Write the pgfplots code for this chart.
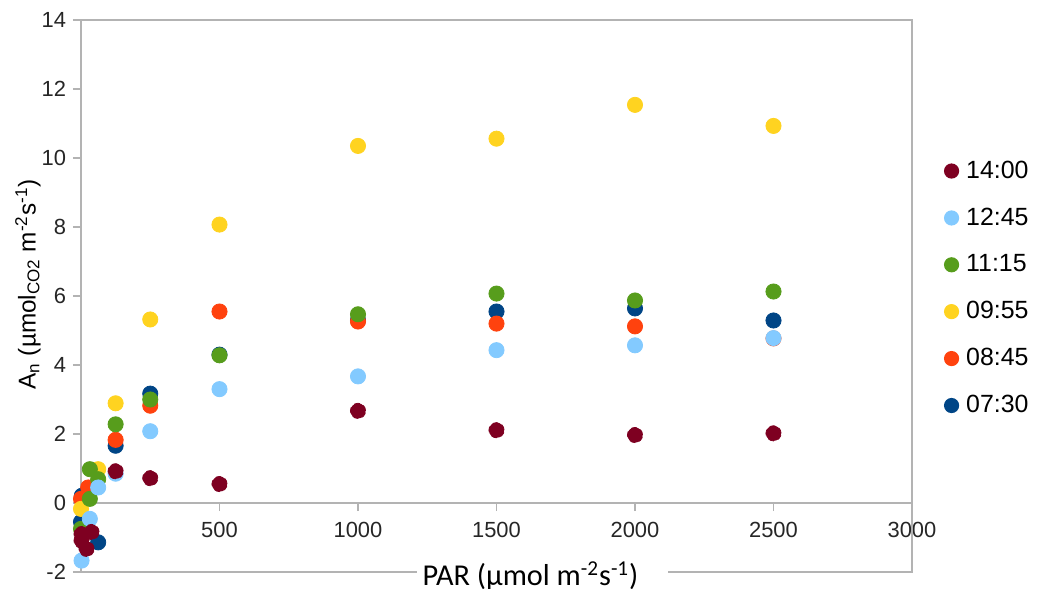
\documentclass[border=0pt]{standalone}
\usepackage{fontspec}
\setmainfont{Liberation Sans}
\newfontfamily\calibri{Carlito}
\usepackage{pgfplots}
\pgfplotsset{compat=1.18}
\definecolor{cA}{HTML}{004586}
\definecolor{cB}{HTML}{FF420E}
\definecolor{cC}{HTML}{FFD320}
\definecolor{cD}{HTML}{579D1C}
\definecolor{cE}{HTML}{83CAFF}
\definecolor{cF}{HTML}{7E0021}
\definecolor{framegray}{HTML}{B3B3B3}
\pgfplotsset{dot/.style={only marks, mark=*, mark size=3.8bp, color=#1, mark options={fill=#1, draw=#1},
  legend image code/.code={\fill[#1, draw=none] (0bp,0bp) circle (3.8bp); \path[draw=none, fill=none] (-3.8bp,0bp) -- (5.3bp,0bp);}}}
\begin{document}
\begin{tikzpicture}
\useasboundingbox (-40.5bp,-8.5bp) rectangle (480bp,286bp);
\begin{axis}[
  at={(0,0)}, anchor=south west,
  scale only axis, width=415.5bp, height=276bp,
  xmin=0, xmax=3000, ymin=-2, ymax=14,
  axis x line*=middle, axis y line*=left,
  axis line style={framegray, line width=0.8bp},
  xtick={0,500,...,3000}, ytick={-2,0,...,14},
  xticklabels={0,500,1000,1500,2000,2500,3000},
  tick align=outside, major tick length=4bp,
  tick style={framegray, line width=0.8bp},
  /pgf/number format/assume math mode=true,
  tick label style={font=\fontsize{11}{13}\selectfont, text=black!85},
  xticklabel style={yshift=-2bp},
  clip=false,
  reverse legend,
  legend cell align=left,
  legend style={at={(rel axis cs:1.038,0.7528)}, anchor=north west, draw=none, fill=none,
    font=\fontsize{12.5}{14}\selectfont, row sep=9.3bp, inner sep=0pt},
]
\draw[framegray, line width=0.8bp] (rel axis cs:0,0) rectangle (rel axis cs:1,1);
% 07:30
\addplot+[dot=cA] coordinates {
 (0,-0.55) (3,0.21) (62,-1.14) (125,1.66) (250,3.17) (500,4.3) (1000,5.3) (1500,5.55) (2000,5.64) (2500,5.29)};
\addlegendentry{07:30}
% 08:45
\addplot+[dot=cB] coordinates {
 (0,0.12) (26,0.45) (125,1.83) (250,2.82) (500,5.55) (1000,5.26) (1500,5.2) (2000,5.12) (2500,4.77)};
\addlegendentry{08:45}
% 09:55
\addplot+[dot=cC] coordinates {
 (0,-0.17) (62,0.98) (125,2.89) (250,5.32) (500,8.07) (1000,10.35) (1500,10.56) (2000,11.54) (2500,10.93)};
\addlegendentry{09:55}
% 11:15
\addplot+[dot=cD] coordinates {
 (0,-0.75) (32,0.12) (32,0.98) (62,0.69) (125,2.28) (250,3.0) (500,4.28) (1000,5.47) (1500,6.07) (2000,5.87) (2500,6.13)};
\addlegendentry{11:15}
% 12:45
\addplot+[dot=cE] coordinates {
 (2,-1.67) (32,-0.46) (62,0.45) (125,0.85) (250,2.08) (500,3.30) (1000,3.67) (1500,4.43) (2000,4.57) (2500,4.78)};
\addlegendentry{12:45}
% 14:00
\addplot+[dot=cF] coordinates {
 (2,-0.9) (2,-1.09) (20,-1.33) (38,-0.84) (125,0.92) (250,0.72) (500,0.55) (1000,2.67) (1500,2.11) (2000,1.97) (2500,2.02)};
\addlegendentry{14:00}
\node[font=\fontsize{11}{13}\selectfont, text=black!85, anchor=north, yshift=-6bp, inner sep=0pt]
  at (axis cs:0,0) {0};
\node[fill=white, minimum width=125.5bp, minimum height=12bp, inner sep=0pt, yshift=-2.5bp]
  at (rel axis cs:0.5548,0) {};
\node[inner sep=0pt, font=\calibri\fontsize{15.2}{17}\selectfont, yshift=-2bp]
  at (rel axis cs:0.541,0) {PAR (µmol m\textsuperscript{-2}s\textsuperscript{-1})};
\node[rotate=90, font=\fontsize{12.2}{14}\selectfont]
  at (rel axis cs:-0.0638,0.521) {A\textsubscript{n} (µmol\textsubscript{CO2} m\textsuperscript{-2}s\textsuperscript{-1})};
\end{axis}
\end{tikzpicture}
\end{document}
